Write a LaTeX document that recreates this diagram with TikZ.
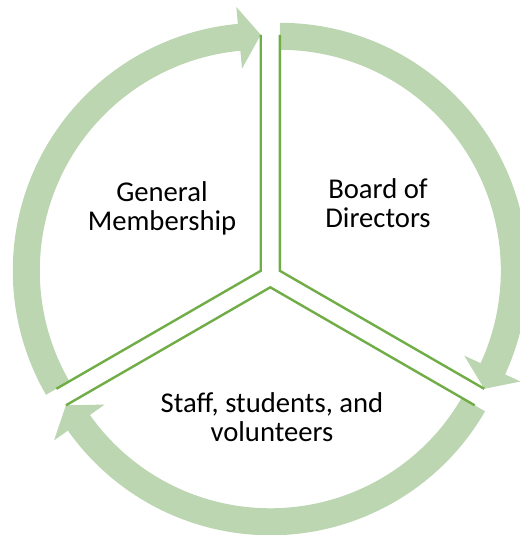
\documentclass[tikz,border=0pt]{standalone}
\usepackage{fontspec}
\setmainfont{Carlito}
\usetikzlibrary{calc}
\definecolor{linegreen}{RGB}{112,173,71}
\definecolor{bandgreen}{RGB}{188,214,177}
\newcommand\mycyclearrow[4]{%
  \fill[band] ($(#1)+(#2:248)$) arc[start angle=#2, end angle=#4, radius=248]
    -- ($(#1)+(#4:265)$) -- ($(#1)+(#3:236)$) -- ($(#1)+(#4:203)$)
    -- ($(#1)+(#4:221)$) arc[start angle=#4, end angle=#2, radius=221] -- cycle;}
\begin{document}
\begin{tikzpicture}[x=0.75pt,y=0.75pt,
  band/.style={fill=bandgreen},
  edge/.style={draw=linegreen,line width=1.8pt,line join=miter},
  lbl/.style={font=\fontsize{21.5}{22.4}\selectfont,align=center,anchor=base,inner sep=0pt}]
\useasboundingbox (0,0) rectangle (519,535);
\coordinate (C) at (270.3,258.7);
\coordinate (L) at ($(C)+(150:11)$);
\coordinate (R) at ($(C)+(30:11)$);
\coordinate (B) at ($(C)+(270:11)$);
% arcs
\mycyclearrow{L}{210}{90}{95.3}
\mycyclearrow{R}{90}{-30}{-24.7}
\mycyclearrow{B}{330}{210}{215.3}
% segment edges
\coordinate (Ltop) at ($(L)+(90:236)$);
\coordinate (Lbot) at ($(L)+(210:236)$);
\coordinate (Rtop) at ($(R)+(90:236)$);
\coordinate (Rbot) at ($(R)+(-30:236)$);
\coordinate (Bright) at ($(B)+(-30:236)$);
\coordinate (Bleft) at ($(B)+(210:236)$);
\draw[edge] (Ltop) -- (L) -- (Lbot);
\draw[edge] (Rtop) -- (R) -- (Rbot);
\draw[edge] (Bright) -- (B) -- (Bleft);
% labels (anchored at the baseline of the last line)
\node[lbl] (gm) at (162,304) {General\\Membership};
\node[lbl] (bd) at (378,307) {Board of\\Directors};
\node[lbl] (ss) at (272,93) {Staff, students, and\\volunteers};
\end{tikzpicture}
\end{document}
